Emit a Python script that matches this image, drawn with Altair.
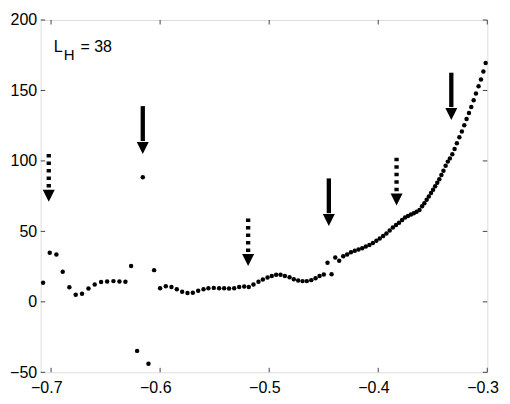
import altair as alt
import pandas as pd

# ---- data ----
x_vals = [
    -0.7073, -0.7012, -0.6951, -0.6893, -0.6832, -0.6774, -0.6716, -0.6657, -0.6600, -0.6541,
    -0.6486, -0.6428, -0.6373, -0.6318, -0.6266, -0.6211, -0.6159, -0.6107, -0.6055, -0.6000,
    -0.5948, -0.5896, -0.5847, -0.5798, -0.5749, -0.5700, -0.5651, -0.5602, -0.5557, -0.5508,
    -0.5459, -0.5413, -0.5368, -0.5321, -0.5275, -0.5229, -0.5187, -0.5144, -0.5098, -0.5058,
    -0.5015, -0.4976, -0.4936, -0.4896, -0.4856, -0.4813, -0.4774, -0.4734, -0.4694, -0.4655,
    -0.4614, -0.4575, -0.4538, -0.4499, -0.4465, -0.4428, -0.4394, -0.4358,
    -0.4321, -0.4285, -0.4250, -0.4215, -0.4181, -0.4147, -0.4114, -0.4081, -0.4049, -0.4017,
    -0.3986, -0.3955, -0.3925, -0.3895, -0.3866, -0.3837, -0.3809, -0.3781, -0.3754, -0.3727,
    -0.3700, -0.3674, -0.3648, -0.3622, -0.3598, -0.3577, -0.3556, -0.3536, -0.3516, -0.3497,
    -0.3478, -0.3459, -0.3440, -0.3421, -0.3402, -0.3382, -0.3362, -0.3343, -0.3321, -0.3300,
    -0.3279, -0.3256, -0.3233, -0.3211, -0.3190, -0.3168, -0.3147, -0.3125, -0.3104, -0.3080,
    -0.3058, -0.3036, -0.3015,
]
y_vals = [
    13.5, 34.8, 33.6, 21.3, 10.4, 5.0, 5.7, 9.5, 12.3, 14.0,
    14.5, 14.7, 14.5, 14.2, 25.5, -34.8, 88.4, -44.0, 22.5, 9.7,
    11.1, 10.6, 9.0, 7.1, 6.2, 6.4, 7.8, 9.0, 9.7, 9.9,
    9.7, 9.7, 9.5, 9.7, 10.6, 10.9, 10.6, 12.3, 14.2, 15.9,
    17.3, 18.4, 19.2, 19.2, 18.4, 17.5, 16.1, 15.2, 14.7, 14.7,
    15.4, 16.8, 18.4, 19.4, 27.7, 19.6, 31.5, 29.1,
    32.4, 33.6, 35.2, 36.2, 37.2, 38.0, 39.2, 40.4, 41.8, 43.3,
    44.9, 46.7, 48.5, 50.7, 52.7, 54.5, 56.2, 58.0, 59.8, 60.9,
    61.9, 62.9, 63.9, 65.2, 67.8, 70.0, 72.5, 74.8, 77.3, 79.6,
    82.0, 84.5, 87.0, 90.0, 93.0, 96.5, 99.5, 101.8, 104.8, 108.5,
    112.6, 116.8, 120.8, 125.3, 129.8, 134.0, 138.3, 143.0, 147.8, 153.0,
    157.7, 163.4, 169.5,
]

arrow_x = [-0.6159, -0.4453, -0.3330, -0.7021, -0.5193, -0.3832]
arrow_top = [138.9, 87.6, 162.6, 104.9, 59.2, 102.2]
arrow_tip = [104.9, 53.7, 129.0, 71.0, 25.3, 68.2]
arrow_kind = ["solid", "solid", "solid", "dotted", "dotted", "dotted"]

main_label_x = [-0.6976, -0.6731]
main_label_y = [177.3, 177.3]
main_label_text = ["L", "= 38"]
sub_label_x = [-0.6884]
sub_label_y = [171.4]
sub_label_text = ["H"]

x_ticks = [-0.7, -0.6, -0.5, -0.4, -0.3]
y_ticks = [-50, 0, 50, 100, 150, 200]
x_domain = [-0.7095, -0.3]
y_domain = [-50, 200]

# ---- layout / style ----
W, H = 446.6, 352.3
HEAD = 8.7      # arrowhead height in data units
TICK = 4.5      # inward tick length in px
FONT = "Liberation Sans"

pts = pd.DataFrame({"x": x_vals, "y": y_vals})
arr = pd.DataFrame({"x": arrow_x, "top": arrow_top, "tip": arrow_tip, "kind": arrow_kind})
arr["base"] = arr["tip"] + HEAD + 0.5
arr["mid"] = arr["tip"] + HEAD / 2
lab_main = pd.DataFrame({"x": main_label_x, "y": main_label_y, "t": main_label_text})
lab_sub = pd.DataFrame({"x": sub_label_x, "y": sub_label_y, "t": sub_label_text})
xt = pd.DataFrame({"v": x_ticks})
yt = pd.DataFrame({"v": y_ticks})

xs = alt.Scale(domain=x_domain, nice=False, zero=False)
ys = alt.Scale(domain=y_domain, nice=False, zero=False)

x_axis = alt.Axis(values=x_ticks, format=".1f", ticks=False, tickSize=0, domain=False,
                  grid=False, labelPadding=7, labelOffset=-4.8, title=None, labelFontSize=16,
                  labelFont=FONT, labelColor="black", labelFlush=False)
y_axis = alt.Axis(values=y_ticks, format="d", ticks=False, tickSize=0, domain=False,
                  grid=False, labelPadding=4, title=None, labelFontSize=16,
                  labelFont=FONT, labelColor="black", labelFlush=False)


def X(field):
    return alt.X(field, scale=xs, axis=x_axis, title=None)


def Y(field):
    return alt.Y(field, scale=ys, axis=y_axis, title=None)


points = alt.Chart(pts).mark_circle(size=20, color="black", opacity=1).encode(
    x=X("x:Q"), y=Y("y:Q"))

solid_shaft = alt.Chart(arr).transform_filter(alt.datum.kind == "solid").mark_rule(
    color="black", strokeWidth=4.3
).encode(x=X("x:Q"), y=Y("top:Q"), y2="base:Q")

dotted_shaft = alt.Chart(arr).transform_filter(alt.datum.kind == "dotted").mark_rule(
    color="black", strokeWidth=4.3, strokeDash=[3.5, 4]
).encode(x=X("x:Q"), y=Y("top:Q"), y2="base:Q")

heads = alt.Chart(arr).mark_point(
    shape="M-1,-1L1,-1L0,1Z", size=144, filled=True, color="black", opacity=1, strokeWidth=0
).encode(x=X("x:Q"), y=Y("mid:Q"))

text_main = alt.Chart(lab_main).mark_text(
    align="left", baseline="alphabetic", font=FONT, fontSize=16, color="black"
).encode(x=X("x:Q"), y=Y("y:Q"), text="t:N")

text_sub = alt.Chart(lab_sub).mark_text(
    align="left", baseline="alphabetic", font=FONT, fontSize=15, color="black"
).encode(x=X("x:Q"), y=Y("y:Q"), text="t:N")

tick_color = "#444444"
xt_bottom = alt.Chart(xt).mark_rule(color=tick_color, strokeWidth=1).encode(
    x=X("v:Q"), y=alt.value(H), y2=alt.value(H - TICK))
xt_top = alt.Chart(xt).mark_rule(color=tick_color, strokeWidth=1).encode(
    x=X("v:Q"), y=alt.value(0), y2=alt.value(TICK))
yt_left = alt.Chart(yt).mark_rule(color=tick_color, strokeWidth=1).encode(
    y=Y("v:Q"), x=alt.value(0), x2=alt.value(TICK))
yt_right = alt.Chart(yt).mark_rule(color=tick_color, strokeWidth=1).encode(
    y=Y("v:Q"), x=alt.value(W), x2=alt.value(W - TICK))

chart = alt.layer(
    points, xt_bottom, xt_top, yt_left, yt_right, solid_shaft, dotted_shaft, heads,
    text_main, text_sub
).properties(
    width=W, height=H,
    autosize=alt.AutoSizeParams(type="none"),
    padding={"left": 32.7, "top": 12, "right": 13.5, "bottom": 26},
).configure_view(
    stroke="#222222", strokeWidth=1
).configure(background="white")

chart.save("out.html", embed_options={"renderer": "svg", "actions": False})
